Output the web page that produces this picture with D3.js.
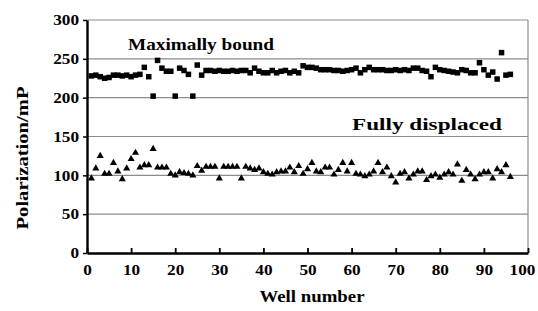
<!DOCTYPE html>
<html>
<head>
<meta charset="utf-8">
<script src="https://cdnjs.cloudflare.com/ajax/libs/d3/7.8.5/d3.min.js"></script>
<style>
  body { margin: 0; background: #fff; }
  svg text { font-family: "Liberation Serif", "Times New Roman", serif; font-weight: bold; fill: #000; }
</style>
</head>
<body>
<div id="container"></div>
<script>
// well numbers 1..96
const wells = d3.range(1, 97);

const boundValues = [
  228, 229, 227, 225, 226, 229, 229, 228, 229, 227, 229, 230, 239, 227, 202, 248,
  238, 234, 234, 202, 238, 235, 230, 202, 242, 229, 235, 235, 234, 235, 234, 234,
  235, 234, 235, 235, 232, 238, 234, 232, 232, 235, 232, 234, 235, 232, 234, 232,
  241, 239, 239, 238, 236, 236, 236, 235, 235, 234, 235, 236, 238, 232, 236, 239,
  236, 236, 236, 235, 235, 236, 235, 236, 235, 238, 238, 235, 234, 227, 239, 236,
  235, 234, 233, 232, 236, 235, 232, 232, 245, 236, 229, 233, 224, 258, 229, 230
];

const displacedValues = [
   96, 109, 125, 102, 102, 116, 105,  95, 109, 121, 129, 110, 113, 113, 134, 110,
  110, 110, 102, 100, 104, 103, 102, 100, 112, 106, 111, 111, 111,  96, 111, 111,
  111, 111,  96, 111, 109, 107, 109, 104, 102, 101, 104, 105, 105, 110, 104, 112,
  102, 108, 116, 105, 104, 110, 110, 101, 107, 116, 105, 116, 102, 101,  99, 101,
  105, 116, 104, 110,  99,  91, 102, 104,  96, 101, 105, 105,  94,  99, 101,  97,
  101, 104, 101, 114,  93, 107, 101,  95, 101, 104, 104,  96, 108, 104, 113,  98
];

const xTicks = [0, 10, 20, 30, 40, 50, 60, 70, 80, 90, 100];
const yTicks = [0, 50, 100, 150, 200, 250, 300];

const w = 538, h = 311;
const margin = {top: 20, right: 10, bottom: 58, left: 87};
const digitW = 8.6;

const x = d3.scaleLinear().domain([0, 100]).range([margin.left, w - margin.right]);
const y = d3.scaleLinear().domain([0, 300]).range([h - margin.bottom, margin.top]);

const svg = d3.select("#container")
    .append("svg")
    .attr("width", w)
    .attr("height", h);

// gridlines
svg.append("g")
    .selectAll("line")
    .data(yTicks.slice(1))
    .enter()
    .append("line")
    .attr("x1", x(0))
    .attr("x2", x(100))
    .attr("y1", d => y(d))
    .attr("y2", d => y(d))
    .attr("stroke", "#8c8c8c")
    .attr("stroke-width", 1.2);

// right border
svg.append("line")
    .attr("x1", x(100)).attr("x2", x(100))
    .attr("y1", y(300)).attr("y2", y(0))
    .attr("stroke", "#8c8c8c")
    .attr("stroke-width", 1.2);

// x axis, ticks pointing into the plot
const xAxis = svg.append("g")
    .attr("transform", "translate(0," + y(0) + ")")
    .call(d3.axisBottom(x).tickValues(xTicks).tickSizeInner(-5).tickSizeOuter(0).tickPadding(11));
xAxis.select(".domain").attr("stroke", "#000").attr("stroke-width", 2.4);
xAxis.selectAll(".tick line").attr("stroke", "#000").attr("stroke-width", 1.8);
xAxis.selectAll("text")
    .style("font-size", "15px")
    .attr("textLength", d => String(d).length * digitW)
    .attr("lengthAdjust", "spacingAndGlyphs");
// last label is pulled in so it stays inside the page
xAxis.selectAll("text").filter(d => d === 100).attr("x", -6);

const yAxis = svg.append("g")
    .attr("transform", "translate(" + x(0) + ",0)")
    .call(d3.axisLeft(y).tickValues(yTicks).tickSizeInner(4).tickSizeOuter(0).tickPadding(4));
yAxis.select(".domain").attr("stroke", "#000").attr("stroke-width", 2.4);
yAxis.selectAll(".tick line").attr("stroke", "#000").attr("stroke-width", 1.5);
yAxis.selectAll("text")
    .style("font-size", "15px")
    .attr("textLength", d => String(d).length * digitW)
    .attr("lengthAdjust", "spacingAndGlyphs");

// maximally bound: squares
const sq = 5.5;
svg.append("g")
    .selectAll("rect")
    .data(wells)
    .enter()
    .append("rect")
    .attr("x", (d, i) => x(d) - sq / 2)
    .attr("y", (d, i) => y(boundValues[i]) - sq / 2)
    .attr("width", sq)
    .attr("height", sq)
    .attr("fill", "#000");

// fully displaced: triangles
const tri = d3.symbol().type(d3.symbolTriangle).size(22);
svg.append("g")
    .selectAll("path")
    .data(wells)
    .enter()
    .append("path")
    .attr("d", tri)
    .attr("transform", (d, i) => "translate(" + x(d) + "," + y(displacedValues[i]) + ")")
    .attr("fill", "#000");

// labels, stretched wide like the original
function label(txt, cx, cy, len) {
    return svg.append("text")
        .attr("x", cx - len / 2).attr("y", cy)
        .attr("textLength", len)
        .attr("lengthAdjust", "spacingAndGlyphs")
        .style("font-size", "16px")
        .text(txt);
}

label("Maximally bound", 201, 50, 146);
label("Fully displaced", 427, 130, 150);
label("Well number", 312, 302, 105);

svg.append("text")
    .attr("transform", "translate(28," + 158 + ") rotate(-90)")
    .attr("x", -143 / 2)
    .attr("textLength", 143)
    .attr("lengthAdjust", "spacingAndGlyphs")
    .style("font-size", "16px")
    .text("Polarization/mP");
</script>
</body>
</html>
